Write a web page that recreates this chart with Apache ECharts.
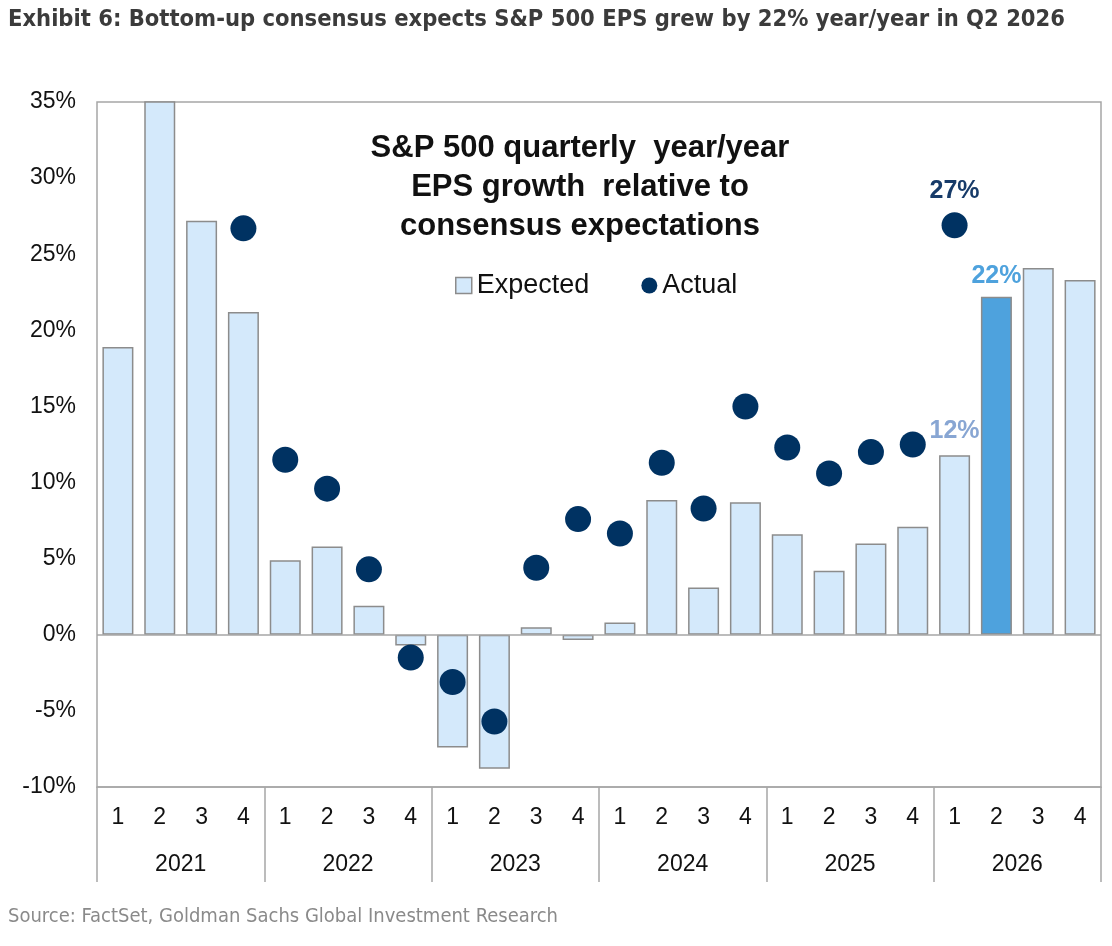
<!DOCTYPE html>
<html>
<head>
<meta charset="utf-8">
<script src="https://cdn.jsdelivr.net/npm/echarts@6/dist/echarts.min.js"></script>
<style>
  html, body { margin: 0; padding: 0; background: #fff; }
  #chart { width: 1112px; height: 946px; }
</style>
</head>
<body>
<div id="chart"></div>
<script>
// quarters 2021 Q1 .. 2026 Q4
var years = ['2021', '2022', '2023', '2024', '2025', '2026'];
var quarters = [];
years.forEach(function() { quarters.push('1', '2', '3', '4'); });

// consensus expected y/y EPS growth (%), 2021 Q2 runs off the top of the chart
var expected = [18.9, 52, 27.2, 21.2,
                4.9, 5.8, 1.9, -0.7,
                -7.4, -8.8, 0.5, -0.35,
                0.8, 8.85, 3.1, 8.7,
                6.6, 4.2, 6.0, 7.1,
                11.8, 22.2, 24.1, 23.3];
// actual y/y EPS growth (%)
var actual = [null, null, null, 26.7,
              11.5, 9.6, 4.3, -1.5,
              -3.1, -5.7, 4.4, 7.6,
              6.65, 11.3, 8.3, 15.0,
              12.3, 10.6, 12.0, 12.5,
              26.9, null, null, null];

var yTicks = { min: -10, max: 35, step: 5 };

var grey = '#a6a6a6';
var pct = function(p) { return Math.round(p.value) + '%'; };

var barData = expected.map(function(v, i) {
    var item = { value: v };
    if (i === 20) {
        item.label = { show: true, position: 'top', distance: 12, formatter: pct,
                       color: '#88a6d3', fontSize: 25, fontWeight: 'bold' };
    }
    if (i === 21) {
        item.itemStyle = { color: '#4ea2dd' };
        item.label = { show: true, position: 'top', distance: 8, formatter: pct,
                       color: '#4ea2dd', fontSize: 25, fontWeight: 'bold' };
    }
    return item;
});

var dotData = actual.map(function(v, i) {
    var item = { value: v };
    if (i === 20) {
        item.label = { show: true, position: 'top', distance: 9, formatter: pct,
                       color: '#173b69', fontSize: 25, fontWeight: 'bold' };
    }
    return item;
});

var option = {
    backgroundColor: '#fff',
    animation: false,
    textStyle: { fontFamily: 'Liberation Sans, Arial, sans-serif' },
    grid: {
        left: 97, right: 11, top: 102, bottom: 159,
        show: true, borderColor: grey, borderWidth: 1.5
    },
    legend: {
        left: 450, top: 267,
        itemWidth: 16, itemHeight: 16, itemGap: 52,
        textStyle: { fontSize: 27, color: '#111', fontFamily: 'Liberation Sans, Arial' },
        data: [
            { name: 'Expected', icon: 'rect',
              itemStyle: { color: '#d4e9fb', borderColor: '#8c8c8c', borderWidth: 1.5 } },
            { name: 'Actual', icon: 'circle' }
        ]
    },
    xAxis: [{
        type: 'category',
        data: quarters,
        position: 'bottom',
        axisLine: { show: true, onZero: false, lineStyle: { color: grey, width: 1.5 } },
        axisTick: { show: false },
        axisLabel: { margin: 19, fontSize: 23, color: '#111', interval: 0 }
    }, {
        type: 'category',
        data: years,
        position: 'bottom',
        axisLine: { show: false, onZero: false },
        axisTick: { show: true, length: 95, lineStyle: { color: grey, width: 1.5 } },
        axisLabel: { margin: 66, fontSize: 23, color: '#111' }
    }],
    yAxis: {
        type: 'value',
        min: yTicks.min, max: yTicks.max, interval: yTicks.step,
        axisLine: { show: false },
        axisTick: { show: false },
        splitLine: { show: false },
        axisLabel: { formatter: '{value}%', fontSize: 23, color: '#111', margin: 21 }
    },
    series: [{
        name: 'Expected',
        type: 'bar',
        xAxisIndex: 0,
        barWidth: 31,
        clip: true,
        data: barData,
        itemStyle: { color: '#d4e9fb', borderColor: '#8c8c8c', borderWidth: 1.5 },
        markLine: {
            silent: true, symbol: 'none',
            label: { show: false },
            lineStyle: { color: grey, width: 1.5, type: 'solid' },
            data: [{ yAxis: 0 }]
        }
    }, {
        name: 'Actual',
        type: 'scatter',
        xAxisIndex: 0,
        symbolSize: 26,
        data: dotData,
        itemStyle: { color: '#003262', opacity: 1 },
        z: 5
    }],
    graphic: [{
        type: 'text', left: 8, top: 8,
        style: {
            text: 'Exhibit 6: Bottom-up consensus expects S&P 500 EPS grew by 22% year/year in Q2 2026',
            font: 'bold 23.5px "Liberation Sans Narrow", "DejaVu Sans Condensed", sans-serif',
            fill: '#3b3b3b'
        }
    }, {
        type: 'text', x: 580, y: 129,
        style: {
            text: 'S&P 500 quarterly  year/year\nEPS growth  relative to\nconsensus expectations',
            font: 'bold 31px "Liberation Sans", Arial, sans-serif',
            lineHeight: 39, textAlign: 'center', fill: '#111'
        }
    }, {
        type: 'text', left: 8, top: 907,
        style: {
            text: 'Source: FactSet, Goldman Sachs Global Investment Research',
            font: '20px "Liberation Sans Narrow", "DejaVu Sans Condensed", sans-serif',
            fill: '#8a8a8a'
        }
    }]
};

var myChart = echarts.init(document.getElementById('chart'));
myChart.setOption(option);
</script>
</body>
</html>
